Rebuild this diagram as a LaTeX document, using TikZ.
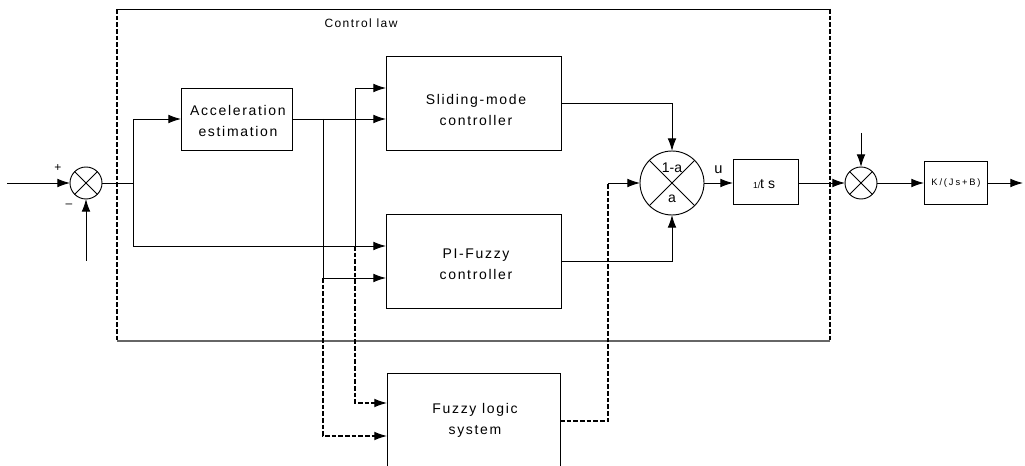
\documentclass[tikz,border=0pt]{standalone}
\usepackage{fontspec}
\setmainfont{Liberation Sans}
\newfontfamily\lsp[LetterSpace=12]{Liberation Sans}
\newfontfamily\lspk[LetterSpace=20]{Liberation Sans}
\usetikzlibrary{arrows.meta}
\begin{document}
\begin{tikzpicture}[x=0.75pt,y=-0.75pt,
  line width=0.7pt,
  arr/.style={-{Latex[length=9.5pt,width=6.5pt]}},
  dsh/.style={line width=0.9pt,dash pattern=on 3.5pt off 1.5pt},
  blk/.style={draw,rectangle,inner sep=0pt,outer sep=0pt},
  sumc/.style={draw,circle,inner sep=0pt,outer sep=0pt,minimum size=24pt},
  lbl/.style={font=\lsp\fontsize{10.5}{15.75}\selectfont,align=center,inner sep=0pt}]
\clip (0,0) rectangle (1025,466);
\fill[white] (0,0) rectangle (1025,466);
% control law frame
\coordinate (cA) at (117,9);
\coordinate (cB) at (830,9);
\coordinate (cC) at (830,341);
\coordinate (cD) at (117,341);
\draw (cA) -- (cB);
\draw[dsh] (cB) -- (cC);
\draw[dsh] (cA) -- (cD);
\draw[line width=1.1pt,black!60] (cD) -- (cC);
\node[font=\lsp\fontsize{9}{10}\selectfont,inner sep=0pt] (cl) at (361,23) {Control law};
% blocks
\node[blk,minimum width=83.25pt,minimum height=46.5pt] (acc) at (236.5,119) {};
\node[lbl] (acct) at (238,121.5) {Acceleration\\estimation};
\node[blk,minimum width=131.25pt,minimum height=70.5pt] (sl) at (473.5,103) {};
\node[lbl] (slt) at (476,109.5) {Sliding-mode\\controller};
\node[blk,minimum width=131.25pt,minimum height=70.5pt] (pi) at (473.5,261) {};
\node[lbl] (pit) at (476,264) {PI-Fuzzy\\controller};
\node[blk,minimum width=129.75pt,minimum height=72.75pt] (fz) at (473.5,421.5) {};
\node[lbl] (fzt) at (475,420) {Fuzzy logic\\system};
\node[blk,minimum width=48.75pt,minimum height=33.75pt] (ts) at (765.5,181.5) {};
\node[inner sep=0pt,font=\fontsize{10.5}{12}\selectfont] (tst) at (764,184) {{\fontsize{6.5}{7}\selectfont 1/}t s};
\node[blk,minimum width=47.25pt,minimum height=32.25pt] (k) at (955.5,182.5) {};
\node[inner sep=0pt,font=\lspk\fontsize{7}{8}\selectfont] (kt) at (956,183) {K/(Js+B)};
% summing junctions
\node[sumc] (s1) at (86,183) {};
\draw (s1.north west) -- (s1.south east) (s1.north east) -- (s1.south west);
\node[sumc] (s2) at (861,183) {};
\draw (s2.north west) -- (s2.south east) (s2.north east) -- (s2.south west);
\node[sumc,minimum size=48pt] (mx) at (672,183) {};
\draw (mx.north west) -- (mx.south east) (mx.north east) -- (mx.south west);
\node[font=\fontsize{10.5}{12}\selectfont,inner sep=0pt] (mxa) at (672,168) {1-a};
\node[font=\fontsize{10.5}{12}\selectfont,inner sep=0pt] (mxb) at (672,199) {a};
\node[font=\fontsize{9}{10}\selectfont,inner sep=0pt] (plus) at (58,168) {+};
\node[font=\fontsize{9}{10}\selectfont,inner sep=0pt] (minus) at (69,206) {--};
% coordinates
\coordinate (in) at (7,183);
\coordinate (fb) at (86,261);
\coordinate (j1) at (133,183);
\coordinate (jp) at (133,246);
\coordinate (j355) at (355,246);
\coordinate (t355) at (355,88);
\coordinate (j323) at (323,119);
\coordinate (b323) at (323,278);
\coordinate (f355) at (355,403);
\coordinate (f323) at (323,436);
\coordinate (smc) at (672,103);
\coordinate (pic) at (672,261);
\coordinate (fo) at (608,421);
\coordinate (fm) at (608,183);
\coordinate (d2) at (861,133);
\coordinate (out) at (1023,183);
% connectors
\draw[arr] (in) -- (s1.west);
\draw[arr] (fb) -- (s1.south);
\draw (s1.east) -- (j1);
\draw[arr] (j1) |- (acc.west);
\draw[arr] (j1) -- (jp) -- (jp -| pi.west);
\draw[arr] (acc.east) -- (acc.east -| sl.west);
\draw[arr] (j355) -- (t355) -- (t355 -| sl.west);
\draw[arr] (j323) -- (b323) -- (b323 -| pi.west);
\draw[arr,dsh] (j355) -- (f355) -- (f355 -| fz.west);
\draw[arr,dsh] (b323) -- (f323) -- (f323 -| fz.west);
\draw[arr] (sl.east) -- (smc) -- (mx.north);
\draw[arr] (pi.east) -- (pic) -- (mx.south);
\draw[dsh] (fz.east |- fo) -- (fo) -- (fm);
\draw[arr] (fm) -- (mx.west);
\draw[arr] (mx.east) -- node[above=7pt,inner sep=0pt,font=\fontsize{11}{12}\selectfont] (u) {u} (mx.east -| ts.west);
\draw[arr] (ts.east |- s2) -- (s2.west);
\draw[arr] (d2) -- (s2.north);
\draw[arr] (s2.east) -- (s2.east -| k.west);
\draw[arr] (k.east |- s2) -- (out);
\end{tikzpicture}
\end{document}
